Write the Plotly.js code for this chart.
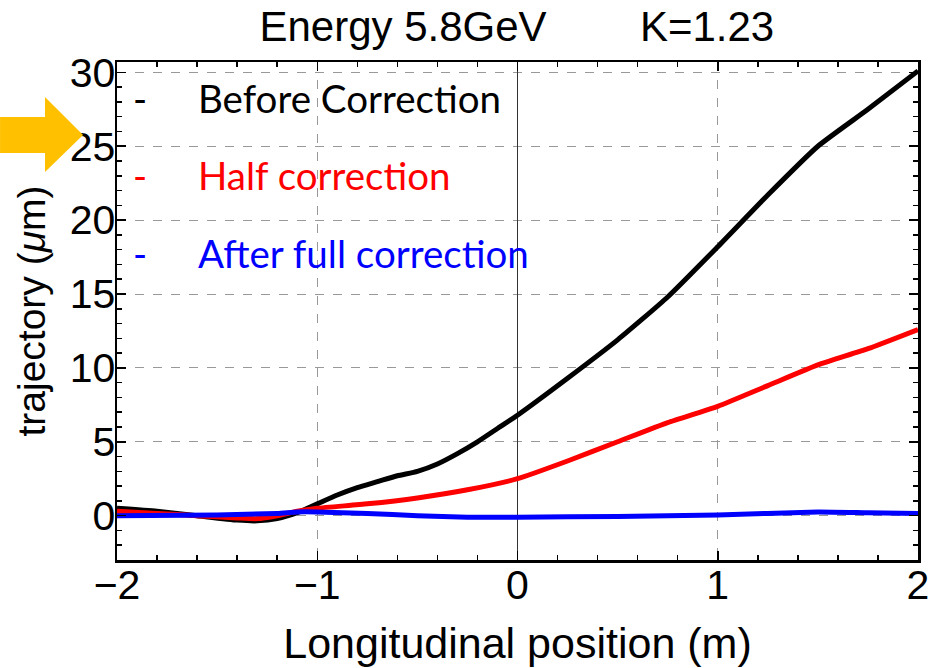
<!DOCTYPE html>
<html>
<head>
<meta charset="utf-8">
<script src="https://cdn.plot.ly/plotly-3.0.1.min.js"></script>
<style>html,body{margin:0;padding:0;background:#fff;}#chart{width:938px;height:668px;}</style>
</head>
<body>
<div id="chart"></div>
<script>
// Longitudinal position (m)
var xBefore = [-2, -1.8, -1.6, -1.4, -1.3, -1.2, -1.1, -1.0, -0.9, -0.8, -0.7, -0.6, -0.5, -0.4, -0.3, -0.2, -0.1, 0, 0.25, 0.5, 0.75, 1.0, 1.25, 1.5, 1.75, 2.0];
var yBefore = [0.5, 0.3, 0.0, -0.3, -0.35, -0.2, 0.2, 0.8, 1.4, 1.9, 2.3, 2.7, 3.0, 3.5, 4.2, 5.0, 5.9, 6.8, 9.3, 11.9, 14.8, 18.2, 21.7, 25.0, 27.5, 30.1];

var xHalf = [-2, -1.8, -1.6, -1.4, -1.3, -1.2, -1.1, -1.0, -0.75, -0.5, -0.25, 0, 0.25, 0.5, 0.75, 1.0, 1.25, 1.5, 1.75, 2.0];
var yHalf = [0.3, 0.15, 0.0, -0.15, -0.2, 0.0, 0.3, 0.5, 0.8, 1.2, 1.75, 2.5, 3.7, 5.0, 6.3, 7.4, 8.8, 10.2, 11.3, 12.6];

var xFull = [-2, -1.5, -1.2, -1.1, -1.0, -0.75, -0.5, -0.25, 0, 0.5, 1.0, 1.5, 1.75, 2.0];
var yFull = [0.0, 0.05, 0.15, 0.25, 0.25, 0.15, 0.0, -0.1, -0.1, -0.05, 0.05, 0.25, 0.2, 0.15];

var seriesNames = ["Before Correction", "Half correction", "After full correction"];
var seriesColors = ["#000000", "#ff0000", "#0000ff"];

var traces = [
  {x: xBefore, y: yBefore, name: seriesNames[0]},
  {x: xHalf, y: yHalf, name: seriesNames[1]},
  {x: xFull, y: yFull, name: seriesNames[2]}
].map(function (t, i) {
  t.type = "scatter";
  t.mode = "lines";
  t.line = {color: seriesColors[i], width: 5, shape: "spline", smoothing: 0.5};
  t.showlegend = false;
  return t;
});

var legendY = [0.928, 0.773, 0.616];
var annotations = [];
seriesNames.forEach(function (n, i) {
  annotations.push({xref: "paper", yref: "paper", x: 0.029, y: legendY[i], text: "-", showarrow: false,
    xanchor: "center", yanchor: "middle", font: {family: "Lato", size: 38, color: seriesColors[i]}});
  annotations.push({xref: "paper", yref: "paper", x: 0.099, y: legendY[i], text: n, showarrow: false,
    xanchor: "left", yanchor: "middle", font: {family: "Lato", size: 38.5, color: seriesColors[i]}});
});

var FONT = "Liberation Sans";
var tickFont = {family: FONT, size: 41, color: "#000"};
var layout = {
  width: 938, height: 668,
  margin: {l: 117, r: 20, t: 62, b: 108},
  paper_bgcolor: "#fff", plot_bgcolor: "#fff",
  font: {family: FONT, color: "#000"},
  title: {text: "Energy 5.8GeV\u00a0\u00a0\u00a0\u00a0\u00a0\u00a0\u00a0\u00a0K=1.23", x: 0.551, xanchor: "center", y: 0.961, yanchor: "middle",
    font: {family: FONT, size: 42, color: "#000"}},
  xaxis: {
    range: [-2, 2], tickvals: [-2, -1, 0, 1, 2], ticktext: ["\u22122", "\u22121", "0", "1", "2"],
    ticks: "inside", ticklen: 9, tickwidth: 1.5, tickcolor: "#000",
    minor: {dtick: 0.2, ticks: "inside", ticklen: 5, tickcolor: "#000", showgrid: false},
    showline: true, linecolor: "#000", linewidth: 2.5, mirror: "allticks",
    showgrid: true, gridcolor: "#999", griddash: "dash", gridwidth: 1,
    zeroline: true, zerolinecolor: "#333", zerolinewidth: 1.5,
    tickfont: tickFont, ticklabelposition: "outside", ticklabelstandoff: -13,
    title: {text: "Longitudinal position (m)", font: {family: FONT, size: 43, color: "#000"}, standoff: 21}
  },
  yaxis: {
    range: [-3, 30.7], tickvals: [0, 5, 10, 15, 20, 25, 30],
    ticks: "inside", ticklen: 9, tickwidth: 1.5, tickcolor: "#000",
    minor: {dtick: 1, ticks: "inside", ticklen: 5, tickcolor: "#000", showgrid: false},
    showline: true, linecolor: "#000", linewidth: 2.5, mirror: "allticks",
    showgrid: true, gridcolor: "#999", griddash: "dash", gridwidth: 1,
    zeroline: false,
    tickfont: tickFont, ticklabelposition: "outside", ticklabelstandoff: -9,
    title: {text: "trajectory (<i>μ</i>m)", font: {family: FONT, size: 39, color: "#000"}, standoff: 12}
  },
  annotations: annotations,
  shapes: [{
    type: "path", xref: "paper", yref: "paper", layer: "above",
    path: "M -0.146 0.8896 L -0.0899 0.8896 L -0.0899 0.9297 L -0.0424 0.8534 L -0.0899 0.7791 L -0.0899 0.8173 L -0.146 0.8173 Z",
    fillcolor: "#ffc000", line: {width: 0}
  }]
};

Plotly.newPlot("chart", traces, layout, {displayModeBar: false, staticPlot: true});
</script>
</body>
</html>
